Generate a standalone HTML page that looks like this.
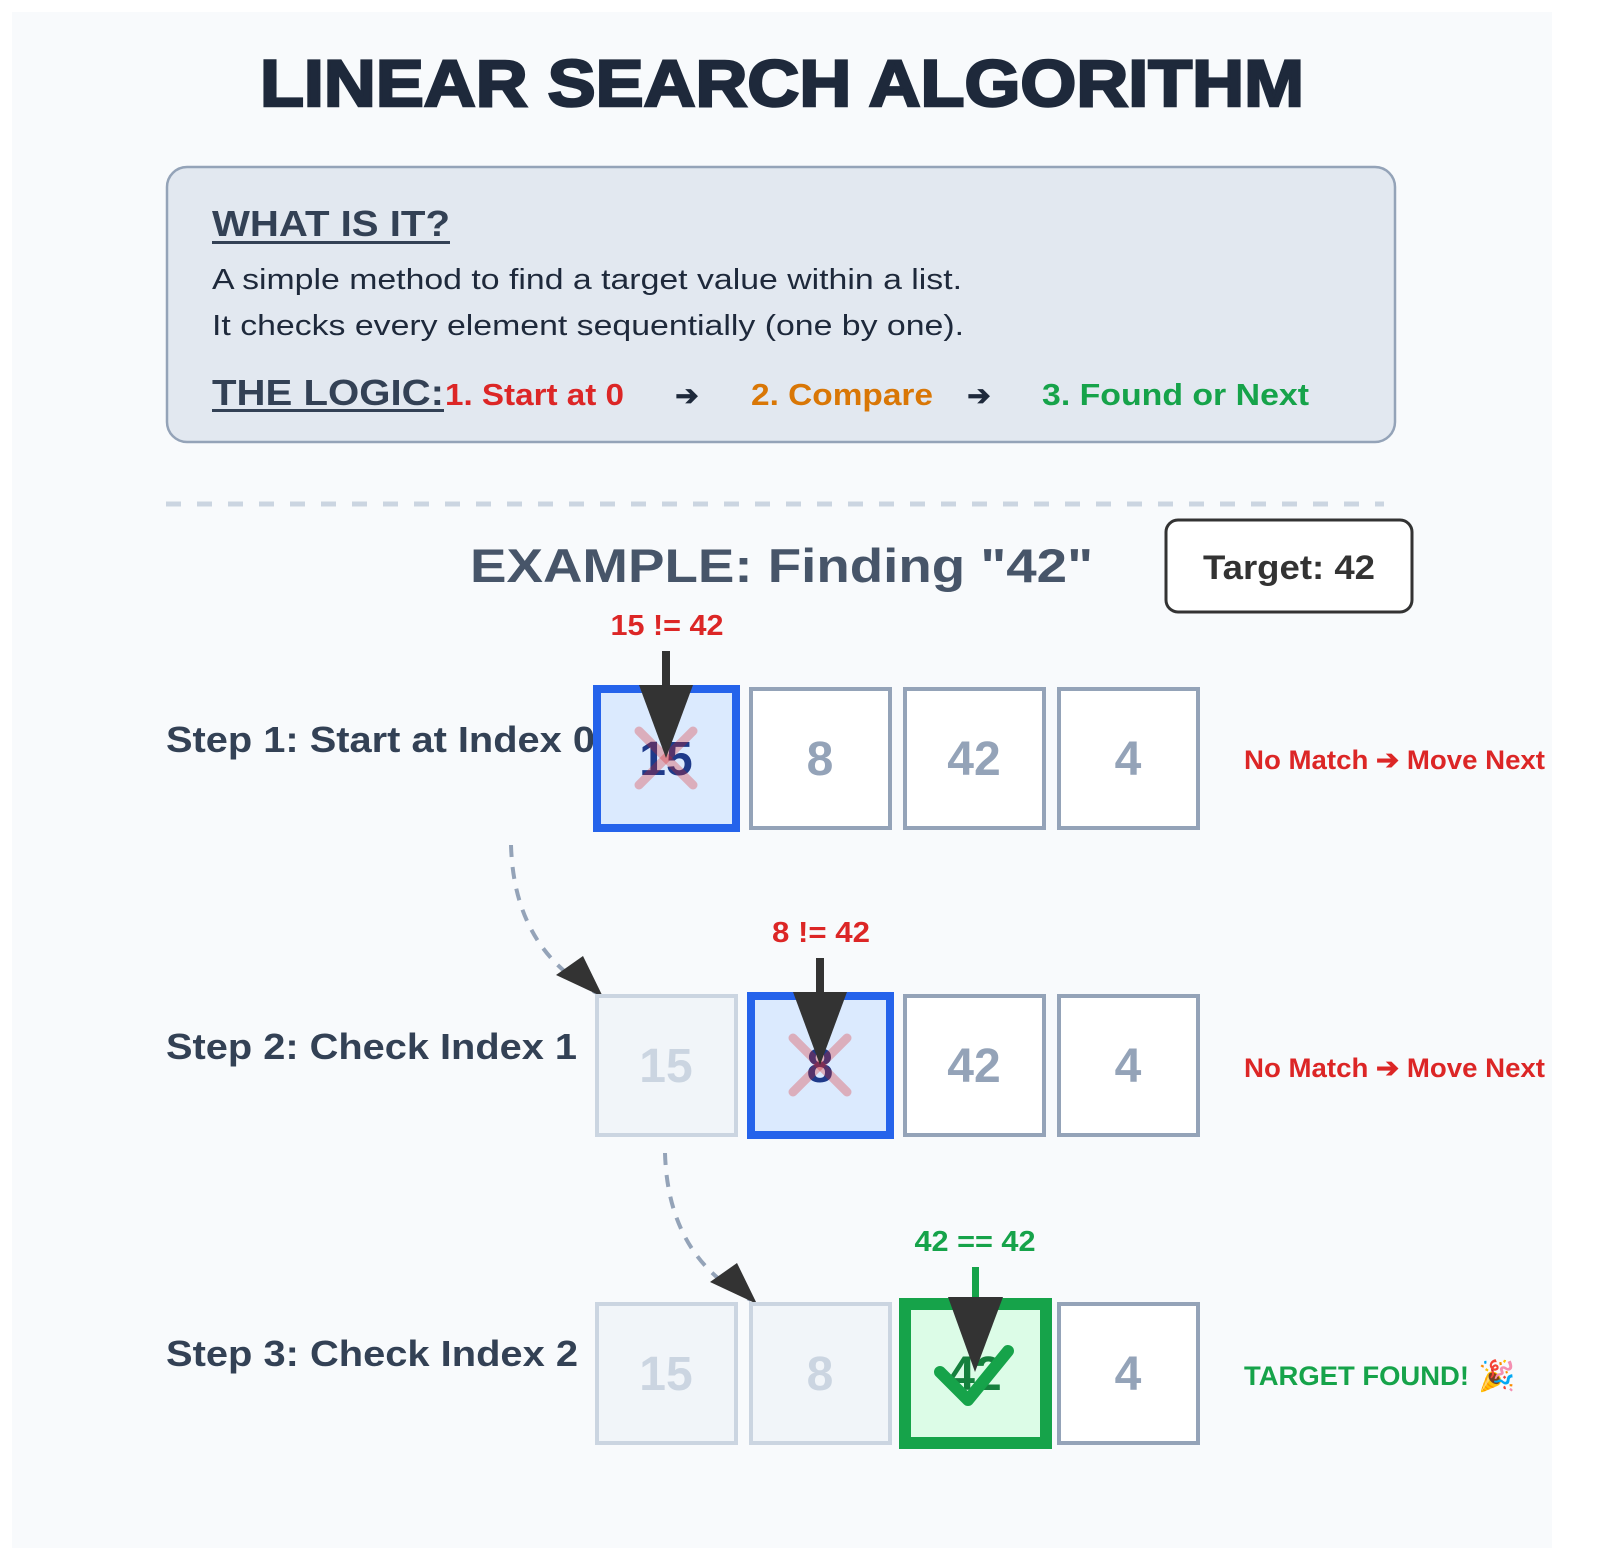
<!DOCTYPE html>
<html><head><meta charset="utf-8"><style>
html,body{margin:0;padding:0;background:#fff;}
svg{display:block;font-family:"Liberation Sans",Arial,sans-serif;}
</style></head><body>
<svg width="1600" height="1548" viewBox="0 0 1600 1548" xmlns="http://www.w3.org/2000/svg">
<rect x="12" y="12" width="1540" height="1536" fill="#f8fafc"/>
<text x="782" y="106" text-anchor="middle" font-size="66" font-weight="900" fill="#1e293b" textLength="1044" lengthAdjust="spacingAndGlyphs" stroke="#1e293b" stroke-width="2.5">LINEAR SEARCH ALGORITHM</text>

<rect x="167" y="167" width="1228" height="275" rx="20" fill="#e2e8f0" stroke="#94a3b8" stroke-width="2.5"/>
<text x="212" y="236" font-size="36" font-weight="bold" fill="#334155" textLength="238" lengthAdjust="spacingAndGlyphs">WHAT IS IT?</text>
<rect x="212" y="241" width="238" height="3" fill="#334155"/>
<text x="212" y="289" font-size="29" fill="#1e293b" textLength="750" lengthAdjust="spacingAndGlyphs">A simple method to find a target value within a list.</text>
<text x="212" y="335" font-size="29" fill="#1e293b" textLength="752" lengthAdjust="spacingAndGlyphs">It checks every element sequentially (one by one).</text>
<text x="212" y="405" font-size="36" font-weight="bold" fill="#334155" textLength="232" lengthAdjust="spacingAndGlyphs">THE LOGIC:</text>
<rect x="212" y="409" width="232" height="3" fill="#334155"/>
<text x="445" y="405" font-size="31" font-weight="bold" fill="#dc2626" textLength="179" lengthAdjust="spacingAndGlyphs">1. Start at 0</text>
<text x="687" y="405" font-size="28" font-weight="bold" fill="#1e293b" text-anchor="middle">➔</text>
<text x="751" y="405" font-size="31" font-weight="bold" fill="#d97706" textLength="182" lengthAdjust="spacingAndGlyphs">2. Compare</text>
<text x="979" y="405" font-size="28" font-weight="bold" fill="#1e293b" text-anchor="middle">➔</text>
<text x="1042" y="405" font-size="31" font-weight="bold" fill="#16a34a" textLength="267" lengthAdjust="spacingAndGlyphs">3. Found or Next</text>

<line x1="166" y1="504" x2="1384" y2="504" stroke="#cbd5e1" stroke-width="5" stroke-dasharray="15 16"/>

<text x="470" y="582" font-size="47" font-weight="bold" fill="#475569" textLength="623" lengthAdjust="spacingAndGlyphs">EXAMPLE: Finding "42"</text>
<rect x="1166" y="520" width="246" height="92" rx="12" fill="#fff" stroke="#333" stroke-width="3"/>
<text x="1289" y="579" font-size="34" font-weight="bold" fill="#333" text-anchor="middle" textLength="172" lengthAdjust="spacingAndGlyphs">Target: 42</text>

<!-- Row 1 -->
<text x="166" y="752" font-size="36" font-weight="bold" fill="#334155" textLength="429" lengthAdjust="spacingAndGlyphs">Step 1: Start at Index 0</text>
<rect x="597" y="689" width="139" height="139" fill="#dbeafe" stroke="#2563eb" stroke-width="8"/>
<text x="666" y="775" font-size="48" font-weight="bold" fill="#1e3a8a" text-anchor="middle">15</text>
<rect x="751" y="689" width="139" height="139" fill="#fff" stroke="#94a3b8" stroke-width="4"/>
<text x="820" y="775" font-size="48" font-weight="bold" fill="#94a3b8" text-anchor="middle">8</text>
<rect x="905" y="689" width="139" height="139" fill="#fff" stroke="#94a3b8" stroke-width="4"/>
<text x="974" y="775" font-size="48" font-weight="bold" fill="#94a3b8" text-anchor="middle">42</text>
<rect x="1059" y="689" width="139" height="139" fill="#fff" stroke="#94a3b8" stroke-width="4"/>
<text x="1128" y="775" font-size="48" font-weight="bold" fill="#94a3b8" text-anchor="middle">4</text>
<g stroke="#dc2626" stroke-opacity="0.3" stroke-width="9" stroke-linecap="round"><line x1="639" y1="731" x2="693" y2="785"/><line x1="693" y1="731" x2="639" y2="785"/></g>
<text x="667" y="635" font-size="29" font-weight="bold" fill="#dc2626" text-anchor="middle" textLength="113" lengthAdjust="spacingAndGlyphs">15 != 42</text>
<rect x="662" y="651" width="8" height="36" fill="#333"/>
<path d="M639,685 L693,685 L666,758 z" fill="#333"/>
<text x="1244" y="769" font-size="27" font-weight="bold" fill="#dc2626" textLength="301" lengthAdjust="spacingAndGlyphs">No Match ➔ Move Next</text>

<path d="M511,845 Q514,950 597,993" fill="none" stroke="#94a3b8" stroke-width="4" stroke-dasharray="12 10"/>
<path d="M556,975 L603,997 L583,956 z" fill="#333"/>

<!-- Row 2 -->
<text x="166" y="1059" font-size="36" font-weight="bold" fill="#334155" textLength="411" lengthAdjust="spacingAndGlyphs">Step 2: Check Index 1</text>
<rect x="597" y="996" width="139" height="139" fill="#f1f5f9" stroke="#cbd5e1" stroke-width="4"/>
<text x="666" y="1082" font-size="48" font-weight="bold" fill="#cbd5e1" text-anchor="middle">15</text>
<rect x="751" y="996" width="139" height="139" fill="#dbeafe" stroke="#2563eb" stroke-width="8"/>
<text x="820" y="1082" font-size="48" font-weight="bold" fill="#1e3a8a" text-anchor="middle">8</text>
<rect x="905" y="996" width="139" height="139" fill="#fff" stroke="#94a3b8" stroke-width="4"/>
<text x="974" y="1082" font-size="48" font-weight="bold" fill="#94a3b8" text-anchor="middle">42</text>
<rect x="1059" y="996" width="139" height="139" fill="#fff" stroke="#94a3b8" stroke-width="4"/>
<text x="1128" y="1082" font-size="48" font-weight="bold" fill="#94a3b8" text-anchor="middle">4</text>
<g stroke="#dc2626" stroke-opacity="0.3" stroke-width="9" stroke-linecap="round"><line x1="793" y1="1038" x2="847" y2="1092"/><line x1="847" y1="1038" x2="793" y2="1092"/></g>
<text x="821" y="942" font-size="29" font-weight="bold" fill="#dc2626" text-anchor="middle" textLength="98" lengthAdjust="spacingAndGlyphs">8 != 42</text>
<rect x="816" y="958" width="8" height="36" fill="#333"/>
<path d="M793,992 L847,992 L820,1065 z" fill="#333"/>
<text x="1244" y="1077" font-size="27" font-weight="bold" fill="#dc2626" textLength="301" lengthAdjust="spacingAndGlyphs">No Match ➔ Move Next</text>

<path d="M665,1153 Q668,1258 751,1300" fill="none" stroke="#94a3b8" stroke-width="4" stroke-dasharray="12 10"/>
<path d="M710,1282 L757,1304 L737,1263 z" fill="#333"/>

<!-- Row 3 -->
<text x="166" y="1366" font-size="36" font-weight="bold" fill="#334155" textLength="412" lengthAdjust="spacingAndGlyphs">Step 3: Check Index 2</text>
<rect x="597" y="1304" width="139" height="139" fill="#f1f5f9" stroke="#cbd5e1" stroke-width="4"/>
<text x="666" y="1390" font-size="48" font-weight="bold" fill="#cbd5e1" text-anchor="middle">15</text>
<rect x="751" y="1304" width="139" height="139" fill="#f1f5f9" stroke="#cbd5e1" stroke-width="4"/>
<text x="820" y="1390" font-size="48" font-weight="bold" fill="#cbd5e1" text-anchor="middle">8</text>
<rect x="905" y="1304" width="141" height="139" fill="#dcfce7" stroke="#16a34a" stroke-width="12"/>
<text x="975" y="1390" font-size="48" font-weight="bold" fill="#15803d" text-anchor="middle">42</text>
<rect x="1059" y="1304" width="139" height="139" fill="#fff" stroke="#94a3b8" stroke-width="4"/>
<text x="1128" y="1390" font-size="48" font-weight="bold" fill="#94a3b8" text-anchor="middle">4</text>
<polyline points="940,1372 968,1400 1008,1351" fill="none" stroke="#16a34a" stroke-width="12" stroke-linecap="round" stroke-linejoin="round"/>
<text x="975" y="1251" font-size="29" font-weight="bold" fill="#16a34a" text-anchor="middle" textLength="121" lengthAdjust="spacingAndGlyphs">42 == 42</text>
<rect x="972" y="1267" width="7" height="32" fill="#16a34a"/>
<path d="M948,1297 L1003,1297 L975,1372 z" fill="#333"/>
<text x="1244" y="1385" font-size="27" font-weight="bold" fill="#16a34a" textLength="225" lengthAdjust="spacingAndGlyphs">TARGET FOUND!</text>
<text x="1478" y="1386" font-size="30">🎉</text>
</svg>
</body></html>
